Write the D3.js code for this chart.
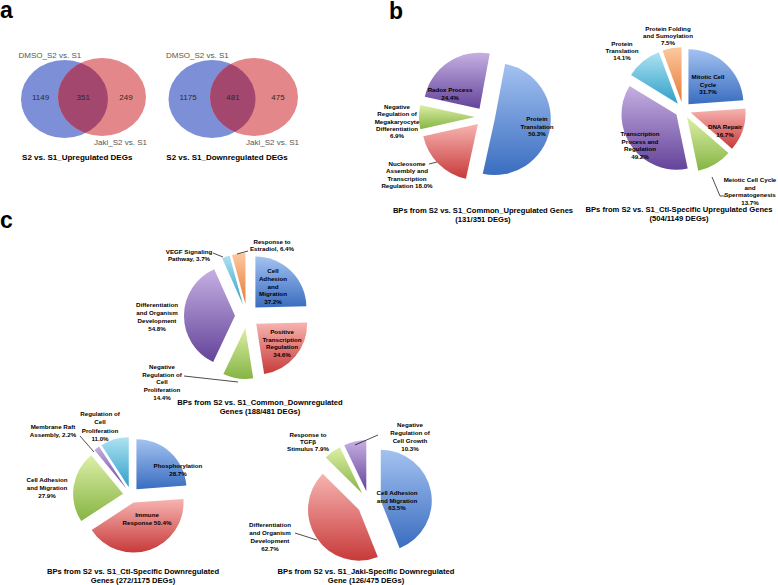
<!DOCTYPE html>
<html><head><meta charset="utf-8">
<script src="https://cdn.jsdelivr.net/npm/d3@7"></script>
<style>body{margin:0;background:#fff} svg{display:block} text{font-family:"Liberation Sans",Arial,Helvetica,sans-serif}</style>
</head><body><svg id="chart" width="778" height="585"></svg>
<script>
// ---------- DATA ----------
const vennSetNames = ["DMSO_S2 vs. S1", "Jaki_S2 vs. S1"];
const vennUpCounts = [1149, 351, 249];
const vennDownCounts = [1175, 481, 475];
const vennTitles = ["S2 vs. S1_Upregulated DEGs", "S2 vs. S1_Downregulated DEGs"];

const commonUpTerms = [["Protein","Translation","{v}%"],["Nucleosome","Assembly and","Transcription","Regulation {v}%"],["Negative","Regulation of","Megakaryocyte","Differentiation","{v}%"],["Radox Process","{v}%"]];
const commonUpValues = [50.3, 18.0, 6.9, 24.4];
const commonUpColors = ["blue","red","green","purple"];
const commonUpTitle = ["BPs from S2 vs. S1_Common_Upregulated Genes", "(131/351 DEGs)"];

const ctlUpTerms = [["Mitotic Cell","Cycle","{v}%"],["DNA Repair","{v}%"],["Meiotic Cell Cycle","and","Spermatogenesis","{v}%"],["Transcription","Process and","Regulation","{v}%"],["Protein","Translation","{v}%"],["Protein Folding","and Sumoylation","{v}%"]];
const ctlUpValues = [31.7, 16.7, 13.7, 49.2, 14.1, 7.5];
const ctlUpColors = ["blue","red","green","purple","cyan","orange"];
const ctlUpTitle = ["BPs from S2 vs. S1_Ctl-Specific Upregulated Genes", "(504/1149 DEGs)"];

const commonDownTerms = [["Cell","Adhesion","and","Migration","{v}%"],["Positive","Transcription","Regulation","{v}%"],["Negative","Regulation of","Cell","Proliferation","{v}%"],["Differentiation","and Organism","Development","{v}%"],["VEGF Signaling","Pathway, {v}%"],["Response to","Estradiol, {v}%"]];
const commonDownValues = [37.2, 34.6, 14.4, 54.8, 3.7, 6.4];
const commonDownColors = ["blue","red","green","purple","cyan","orange"];
const commonDownTitle = ["BPs from S2 vs. S1_Common_Downregulated", "Genes (188/481 DEGs)"];

const ctlDownTerms = [["Phosphorylation","{v}%"],["Immune","Response {v}%"],["Cell Adhesion","and Migration","{v}%"],["Membrane Raft","Assembly, {v}%"],["Regulation of","Cell","Proliferation","{v}%"]];
const ctlDownValues = [28.7, 50.4, 27.9, 2.2, 11.0];
const ctlDownColors = ["blue","red","green","purple","cyan"];
const ctlDownTitle = ["BPs from S2 vs. S1_Ctl-Specific Downregulated", "Genes (272/1175 DEGs)"];

const jakiDownTerms = [["Cell Adhesion","and Migration","{v}%"],["Differentiation","and Organism","Development","{v}%"],["Response to","TGFβ","Stimulus {v}%"],["Negative","Regulation of","Cell Growth","{v}%"]];
const jakiDownValues = [63.5, 62.7, 7.9, 10.3];
const jakiDownColors = ["blue","red","green","purple"];
const jakiDownTitle = ["BPs from S2 vs. S1_Jaki-Specific Downregulated", "Gene (126/475 DEGs)"];

// ---------- STYLE ----------
const grad = {
  blue:["#a3c2f0","#3a6dc0"], red:["#f7b4b1","#c73a3a"], green:["#dcefa6","#86b444"],
  purple:["#c5b0e2","#64439a"], cyan:["#aee2f2","#2e9fc8"], orange:["#fcc9a0","#e67a36"]
};
const svg = d3.select("#chart");
const defs = svg.append("defs");
Object.entries(grad).forEach(([k,[c0,c1]]) => {
  const lg = defs.append("linearGradient").attr("id","g-"+k).attr("x1",0).attr("y1",0).attr("x2",0).attr("y2",1);
  lg.append("stop").attr("offset","0%").attr("stop-color",c0);
  lg.append("stop").attr("offset","100%").attr("stop-color",c1);
});

function multiline(g, lines, x, y, dy, size, weight, color) {
  const t = g.append("text").attr("x",x).attr("y",y).attr("text-anchor","middle")
    .attr("font-size",size).attr("font-weight",weight||"bold").attr("fill",color||"#000");
  lines.forEach((l,i)=> t.append("tspan").attr("x",x).attr("dy", i===0?0:dy).text(l));
  return t;
}

// panel letters
svg.append("text").attr("x",0).attr("y",18).attr("font-size",23).attr("font-weight","bold").text("a");
svg.append("text").attr("x",389).attr("y",19).attr("font-size",23).attr("font-weight","bold").text("b");
svg.append("text").attr("x",0).attr("y",228).attr("font-size",23).attr("font-weight","bold").text("c");

// ---------- VENN ----------
function drawVenn(idx, counts, title, cxL, cxR) {
  const g = svg.append("g");
  const cy = 98, rx = 43.5, ry = 39;
  const clipId = "vclip"+idx;
  defs.append("clipPath").attr("id",clipId).append("ellipse").attr("cx",cxL).attr("cy",cy+1).attr("rx",rx).attr("ry",ry);
  g.append("ellipse").attr("cx",cxL).attr("cy",cy+1).attr("rx",rx).attr("ry",ry).attr("fill","#7d8fd6");
  g.append("ellipse").attr("cx",cxR).attr("cy",cy-1).attr("rx",rx+0.5).attr("ry",ry).attr("fill","#e3878a");
  g.append("ellipse").attr("cx",cxR).attr("cy",cy-1).attr("rx",rx+0.5).attr("ry",ry).attr("fill","#a3476f").attr("clip-path","url(#"+clipId+")");
  const xs = [cxL-24, (cxL+cxR)/2, cxR+24];
  counts.forEach((c,i)=> g.append("text").attr("x",xs[i]).attr("y",100).attr("text-anchor","middle")
     .attr("font-size",8).attr("fill","#2a2a2a").text(c));
  g.append("text").attr("x",cxL-46).attr("y",58).attr("font-size",8).attr("fill","#555").text(vennSetNames[0]);
  g.append("text").attr("x",cxR+45).attr("y",145).attr("text-anchor","end").attr("font-size",8).attr("fill","#555").text(vennSetNames[1]);
  g.append("text").attr("x",(cxL+cxR)/2-6).attr("y",160).attr("text-anchor","middle").attr("font-size",8).attr("font-weight","bold").text(title);
}
drawVenn(0, vennUpCounts, vennTitles[0], 64.5, 102);
drawVenn(1, vennDownCounts, vennTitles[1], 212, 254);

// ---------- PIES ----------
function drawPie(cfg) {
  const g = svg.append("g");
  const a0 = cfg.start*Math.PI/180;
  const pie = d3.pie().sort(null).value(d=>d).startAngle(a0).endAngle(a0+2*Math.PI);
  const arc = d3.arc().innerRadius(0).outerRadius(cfg.r);
  pie(cfg.values).forEach((d,i)=>{
    const mid = (d.startAngle+d.endAngle)/2;
    const e = cfg.explode;
    const tx = cfg.cx + Math.sin(mid)*e, ty = cfg.cy - Math.cos(mid)*e;
    g.append("path").attr("d",arc(d)).attr("transform",`translate(${tx},${ty})`)
      .attr("fill","url(#g-"+cfg.colors[i]+")");
  });
  (cfg.leaders||[]).forEach(pts=> g.append("path").attr("d",d3.line()(pts)).attr("fill","none").attr("stroke","#000").attr("stroke-width",0.7));
  cfg.terms.forEach((lines,i)=>{
    const [x,y,dy] = cfg.labelPos[i];
    multiline(g, lines.map(l=>l.replace("{v}", cfg.values[i].toFixed(1))), x, y, dy||7.6, 6.2, "bold");
  });
  multiline(g, cfg.title, cfg.titlePos[0], cfg.titlePos[1], 9, 7.6, "bold");
}

drawPie({cx:485, cy:117, r:56, explode:10, start:10.6, values:commonUpValues, colors:commonUpColors, terms:commonUpTerms,
  labelPos:[[537,121],[407,166,7.4],[397,109,7.3],[450,92]],
  leaders:[[[429,164],[437,162]]],
  title:commonUpTitle, titlePos:[483,213]});

drawPie({cx:683, cy:110, r:55, explode:8, start:0, values:ctlUpValues, colors:ctlUpColors, terms:ctlUpTerms,
  labelPos:[[708,79],[725,129],[750,182],[640,136],[622,46,7],[668,31,7]],
  leaders:[[[712,177],[720,196],[725,196]]],
  title:ctlUpTitle, titlePos:[679,212]});

drawPie({cx:247, cy:316, r:51, explode:12, start:0, values:commonDownValues, colors:commonDownColors, terms:commonDownTerms,
  labelPos:[[273,273,7.8],[282,334],[162,369,7.7],[157,307,8],[189,254,7],[272,244,7]],
  leaders:[[[184,376],[238,382]],[[213,253],[223,257]],[[237,254],[248,251]]],
  title:commonDownTitle, titlePos:[260,405]});

drawPie({cx:131, cy:495, r:50, explode:8, start:0, values:ctlDownValues, colors:ctlDownColors, terms:ctlDownTerms,
  labelPos:[[178,468,7.5],[147,517],[47,482,8],[53,429,8],[100,416,8.3]],
  leaders:[[[80,436],[94,452]]],
  title:ctlDownTitle, titlePos:[133,574]});

drawPie({cx:369, cy:503, r:51, explode:12, start:0, values:jakiDownValues, colors:jakiDownColors, terms:jakiDownTerms,
  labelPos:[[397,495],[270,527,8],[308,437,7],[410,427,8]],
  leaders:[[[295,533],[317,540]],[[378,435],[355,445]]],
  title:jakiDownTitle, titlePos:[366,574]});
</script></body></html>
